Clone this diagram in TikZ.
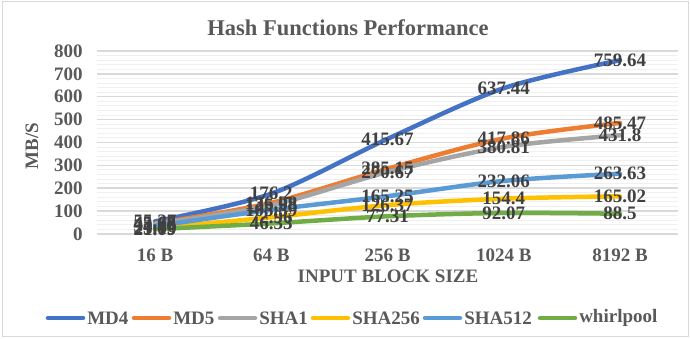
\documentclass[tikz,border=0pt]{standalone}
\usepackage{fontspec}
\setmainfont{Liberation Serif}
\definecolor{mdfourc}{HTML}{4472C4}
\definecolor{mdfivec}{HTML}{ED7D31}
\definecolor{shaonec}{HTML}{A5A5A5}
\definecolor{shatwoc}{HTML}{FFC000}
\definecolor{shafivec}{HTML}{5B9BD5}
\definecolor{whirlc}{HTML}{70AD47}
\definecolor{axisgray}{HTML}{595959}
\definecolor{lblgray}{HTML}{404040}
\tikzset{
  gridmajor/.style={draw=black!15, line width=1.5pt},
  gridminor/.style={draw=black!6, line width=1pt},
  series/.style={line width=4.5pt, line cap=round, line join=round},
  datalbl/.style={text=lblgray},
}
\begin{document}
\begin{tikzpicture}[x=1pt, y=1pt, every node/.style={font=\bfseries\fontsize{19}{20}\selectfont, text=axisgray, inner sep=0pt}]
  \useasboundingbox (0,0) rectangle (690,339);
  % Draw chart frame and titles
  \draw[black!15, line width=1pt] (2,2) rectangle (688,337);
  \node (title) at (348,311) {\fontsize{22.5}{24}\selectfont Hash Functions Performance};
  \node[rotate=90] (ytitle) at (32,193) {MB/S};
  \node (xtitle) at (388,63) {INPUT BLOCK SIZE};
  \begin{scope}[shift={(155,105)}, x=116.25pt, y=0.22875pt]
    % Draw grid lines and value axis
    \foreach \v in {20,40,...,780}
      \draw[gridminor] (-0.5,\v) -- (4.5,\v);
    \foreach \v in {0,100,...,800} {
      \draw[gridmajor] (-0.5,\v) -- (4.5,\v);
      \node[anchor=east] (tick\v) at (-0.62,\v) {\v};
    }
    % Draw category labels
    \foreach \c [count=\i from 0] in {16 B,64 B,256 B,1024 B,8192 B}
      \node (cat\i) at (\i,0) [yshift=-21pt] {\c};
    % Draw the series
    \foreach \col/\a/\b/\c/\d/\e in {mdfourc/55.27/176.2/415.67/637.44/759.64,
        mdfivec/45.66/136.08/285.15/417.86/485.47,
        shaonec/43.03/125.98/270.67/380.81/431.8,
        shatwoc/25.19/72.96/126.37/154.4/165.02,
        shafivec/34.46/105.59/165.25/232.06/263.63,
        whirlc/21.09/46.33/77.31/92.07/88.5}
      \draw[series, \col] plot[smooth, tension=0.5] coordinates {(0,\a) (1,\b) (2,\c) (3,\d) (4,\e)};
    % Data labels on top
    \foreach \s/\a/\b/\c/\d/\e in {md4/55.27/176.2/415.67/637.44/759.64,
        md5/45.66/136.08/285.15/417.86/485.47,
        sha1/43.03/125.98/270.67/380.81/431.8,
        sha256/25.19/72.96/126.37/154.4/165.02,
        sha512/34.46/105.59/165.25/232.06/263.63,
        whirl/21.09/46.33/77.31/92.07/88.5}
      \foreach \v [count=\i from 0] in {\a,\b,\c,\d,\e}
        \node[datalbl] (\s-\i) at (\i,\v) {\v};
  \end{scope}
  % Draw legend
  \foreach \x/\col/\n in {48/mdfourc/MD4, 134/mdfivec/MD5, 220/shaonec/SHA1,
      313/shatwoc/SHA256, 425/shafivec/SHA512, 540/whirlc/whirlpool}
    \draw[series, \col] (\x,21) -- ++(35,0) node[right, xshift=2pt, text=axisgray] (leg\n) {\n};
\end{tikzpicture}
\end{document}
